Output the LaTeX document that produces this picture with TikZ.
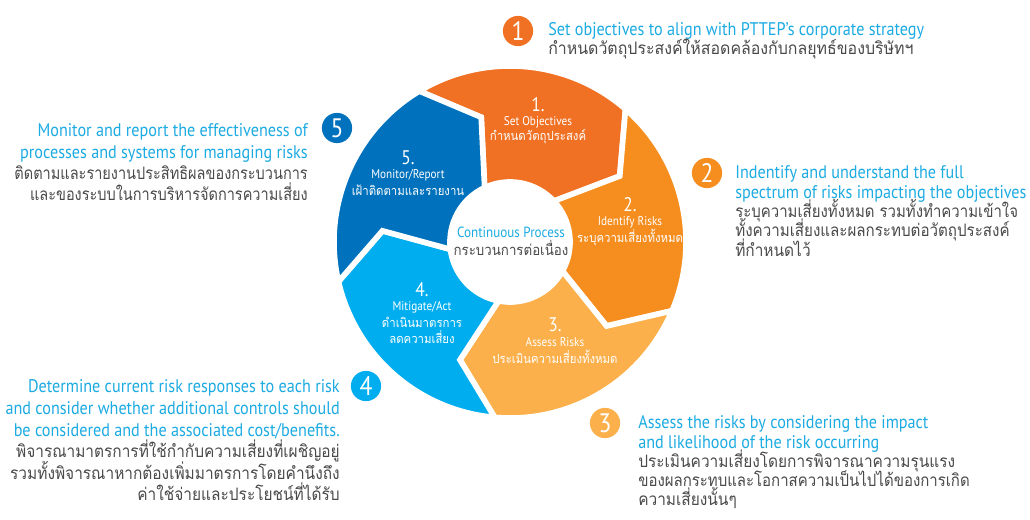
\documentclass[tikz,border=0pt]{standalone}
\usepackage{fontspec}
\setmainfont{PT Sans}[FakeStretch=0.885]
\newfontfamily\thai[Script=Thai,FakeStretch=0.9]{Loma}
\definecolor{segA}{HTML}{F07123}
\definecolor{segB}{HTML}{F68E1F}
\definecolor{segC}{HTML}{FBB04B}
\definecolor{segD}{HTML}{00AEEF}
\definecolor{segE}{HTML}{0071BC}
\definecolor{txtcyan}{HTML}{1CABE2}
\definecolor{txtgray}{HTML}{4A4A4A}
\tikzset{
  engtxt/.style={text=txtcyan,inner sep=0pt,font=\fontsize{13}{15}\selectfont},
  thaitxt/.style={text=txtgray,inner sep=0pt,font=\thai\fontsize{12.2}{15}\selectfont},
  squeeze/.style={transform shape,xscale=#1},
  numdot/.style={circle,text=white,minimum size=21.5pt,inner sep=0pt,font=\fontsize{19}{19}\selectfont},
  segnum/.style={text=white,inner sep=0pt,font=\fontsize{14}{14}\selectfont},
  segeng/.style={text=white,inner sep=0pt,font=\fontsize{9}{10}\selectfont},
  segthai/.style={text=white,inner sep=0pt,font=\thai\fontsize{9}{10}\selectfont}
}

\begin{document}
\begin{tikzpicture}[x=0.025cm,y=0.025cm]
\useasboundingbox[fill=white] (0,0) rectangle (1030,-519);
%ring (radii 176, 128, 60 px)
\begin{scope}[shift={(510,-242)}]
\foreach \c/\a in {segA/121,segB/49,segC/-23,segD/-95,segE/-167}
\filldraw[fill=\c,draw=white,line width=4pt]
  (\a:4.4cm) arc[start angle=\a,end angle=\a-72,radius=4.4cm]
  -- ({\a-90}:3.2cm) -- ({\a-78}:1.5cm)
  arc[start angle=\a-78,end angle=\a-6,radius=1.5cm]
  -- ({\a-18}:3.2cm) -- cycle;
\end{scope}
%center
\node[text=txtcyan,inner sep=0pt,font=\fontsize{10.5}{12}\selectfont] (ctr) at (511,-232) {Continuous Process};
\node[text=txtgray,inner sep=0pt,font=\thai\fontsize{10.5}{12}\selectfont] (ctrth) at (511,-248) {กระบวนการต่อเนื่อง};
%segment labels
\foreach \n/\x/\y/\e/\t in {1/538/105/{Set Objectives}/กำหนดวัตถุประสงค์,
  2/630/205/{Identify Risks}/ระบุความเสี่ยงทั้งหมด,
  3/555/325/{Assess Risks}/ประเมินความเสี่ยงทั้งหมด,
  4/422/290/{Mitigate/Act}/ดำเนินมาตรการ,
  5/408/158/{Monitor/Report}/เฝ้าติดตามและรายงาน}
{
\node[segnum] (sn\n) at (\x,-\y) {\n.};
\node[segeng] (se\n) at (\x,-\y-17) {\e};
\node[segthai] (st\n) at (\x,-\y-32) {\t};
}
\node[segthai] (st4b) at (422,-337) {ลดความเสี่ยง};
%numbers
\foreach \c/\n/\x/\y in {segA/1/518/31,segB/2/707/173,segC/3/605/423,segD/4/366/386,segE/5/337/128}
\node[numdot,fill=\c] (num\n) at (\x,-\y) {\n};
%step 1
\node[engtxt,anchor=base west] (dA1) at (548,-36) {Set objectives to align with PTTEP’s corporate strategy};
\node[thaitxt,squeeze=1.03,anchor=base west] (dA2) at (548,-55) {กำหนดวัตถุประสงค์ให้สอดคล้องกับกลยุทธ์ของบริษัทฯ};
%step 2
\node[engtxt,anchor=base west] (dB1) at (735,-178) {Indentify and understand the full};
\node[engtxt,anchor=base west] (dB2) at (735,-198) {spectrum of risks impacting the objectives};
\node[thaitxt,squeeze=0.97,anchor=base west] (dB3) at (735,-217) {ระบุความเสี่ยงทั้งหมด รวมทั้งทำความเข้าใจ};
\node[thaitxt,squeeze=0.98,anchor=base west] (dB4) at (735,-236) {ทั้งความเสี่ยงและผลกระทบต่อวัตถุประสงค์};
\node[thaitxt,anchor=base west] (dB5) at (735,-256) {ที่กำหนดไว้};
%step 3
\node[engtxt,anchor=base west] (dC1) at (638,-428) {Assess the risks by considering the impact};
\node[engtxt,anchor=base west] (dC2) at (638,-448) {and likelihood of the risk occurring};
\node[thaitxt,anchor=base west] (dC3) at (638,-467) {ประเมินความเสี่ยงโดยการพิจารณาความรุนแรง};
\node[thaitxt,squeeze=0.97,anchor=base west] (dC4) at (638,-486) {ของผลกระทบและโอกาสความเป็นไปได้ของการเกิด};
\node[thaitxt,anchor=base west] (dC5) at (638,-505) {ความเสี่ยงนั้นๆ};
%step 4
\node[engtxt,anchor=base east] (dD1) at (340,-392) {Determine current risk responses to each risk};
\node[engtxt,anchor=base east] (dD2) at (340,-414) {and consider whether additional controls should};
\node[engtxt,anchor=base east] (dD3) at (340,-436) {be considered and the associated cost/benefits.};
\node[thaitxt,anchor=base east] (dD4) at (340,-457) {พิจารณามาตรการที่ใช้กำกับความเสี่ยงที่เผชิญอยู่};
\node[thaitxt,anchor=base east] (dD5) at (340,-479) {รวมทั้งพิจารณาหากต้องเพิ่มมาตรการโดยคำนึงถึง};
\node[thaitxt,anchor=base east] (dD6) at (340,-500) {ค่าใช้จ่ายและประโยชน์ที่ได้รับ};
%step 5
\node[engtxt,anchor=base east] (dE1) at (308,-136) {Monitor and report the effectiveness of};
\node[engtxt,anchor=base east] (dE2) at (308,-158) {processes and systems for managing risks};
\node[thaitxt,squeeze=0.94,anchor=base east] (dE3) at (308,-179) {ติดตามและรายงานประสิทธิผลของกระบวนการ};
\node[thaitxt,squeeze=0.94,anchor=base east] (dE4) at (308,-200) {และของระบบในการบริหารจัดการความเสี่ยง};
\end{tikzpicture}
\end{document}
